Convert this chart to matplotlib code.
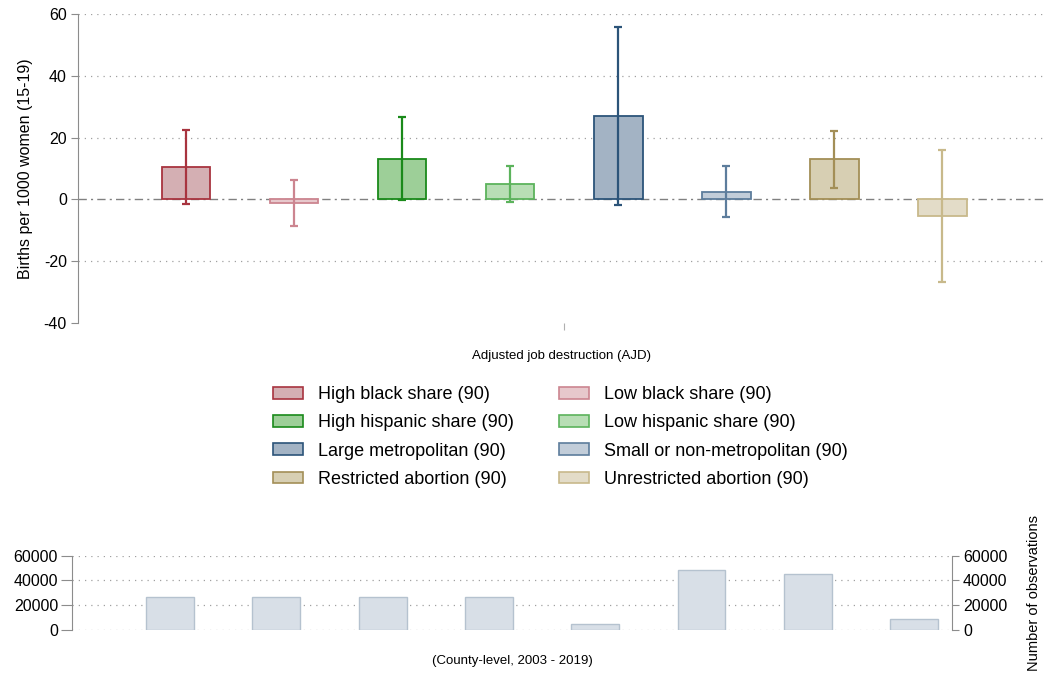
import matplotlib
matplotlib.use("Agg")
import matplotlib.pyplot as plt
from matplotlib.patches import Patch
import numpy as np

plt.rcParams['font.family'] = ['Liberation Sans', 'DejaVu Sans']
plt.rcParams['axes.unicode_minus'] = False

# estimates
groups = [
    "High black share (90)", "Low black share (90)",
    "High hispanic share (90)", "Low hispanic share (90)",
    "Large metropolitan (90)", "Small or non-metropolitan (90)",
    "Restricted abortion (90)", "Unrestricted abortion (90)",
]
coef = [10.4, -1.2, 13.0, 4.9, 26.9, 2.5, 13.0, -5.3]
ci_low = [-1.4, -8.7, -0.2, -0.9, -1.8, -5.6, 3.8, -26.7]
ci_high = [22.4, 6.2, 26.6, 10.9, 55.9, 10.9, 22.2, 15.9]
n_obs = [26400, 26400, 26400, 26400, 4600, 48200, 44700, 8600]

fills = ["#d4afb3", "#e7c8cc", "#9dcf98", "#b8deb5",
         "#a3b3c4", "#c2cdd9", "#d7cfb3", "#e3dcc8"]
edges = ["#a8343f", "#cc8590", "#1a8a1a", "#5cb35c",
         "#2c5479", "#5d7d9c", "#a38f57", "#c8b98b"]

pos = np.arange(1, len(coef) + 1)
grey = "#8c8c8c"

fig = plt.figure(figsize=(10.48, 6.77), dpi=100)
W, H = 1048, 677

# main panel
ax = fig.add_axes([78 / W, 1 - 323 / H, (1045 - 78) / W, (323 - 14) / H])
for g in [60, 40, 20, -20]:
    ax.axhline(g, color="#a0a0a0", lw=0.9, ls=(0, (1, 4)), zorder=0)
ax.axhline(0, color="#808080", lw=1.0, ls=(0, (6, 3, 1.5, 3)), zorder=1)

ax.bar(pos, coef, width=0.45, color=fills, edgecolor=edges, linewidth=1.3, zorder=2)
for i in range(len(coef)):
    ax.errorbar(pos[i], coef[i],
                yerr=[[coef[i] - ci_low[i]], [ci_high[i] - coef[i]]],
                fmt="none", ecolor=edges[i], elinewidth=1.6, capsize=3.2,
                capthick=1.6, zorder=3)

ax.set_xlim(0, 8.95)
ax.set_ylim(-40, 60)
ax.set_yticks([-40, -20, 0, 20, 40, 60])
ax.set_xticks([4.5])
ax.set_xticklabels([""])
ax.tick_params(axis="x", length=5, color="#b0b0b0", width=0.8)
ax.tick_params(axis="y", length=5, color=grey, labelsize=11.5, pad=3)
for s in ["top", "right", "bottom"]:
    ax.spines[s].set_visible(False)
ax.spines["left"].set_color(grey)
ax.set_ylabel("Births per 1000 women (15-19)", fontsize=11.5, labelpad=8)
ax.set_xlabel("Adjusted job destruction (AJD)", fontsize=9.5, labelpad=11)

# legend, filled row by row like the original
order = [0, 2, 4, 6, 1, 3, 5, 7]
handles = [Patch(facecolor=fills[i], edgecolor=edges[i], linewidth=1.2) for i in order]
labels = [groups[i] for i in order]
fig.legend(handles, labels, ncol=2, frameon=False, fontsize=13,
           loc="center", bbox_to_anchor=(560 / W, 1 - 437 / H),
           handlelength=1.66, handleheight=0.6, handletextpad=0.83,
           columnspacing=2.5, labelspacing=0.62, borderaxespad=0, borderpad=0)

# observation counts panel
ax2 = fig.add_axes([72 / W, 1 - 630 / H, (952 - 72) / W, (630 - 555.5) / H])
for g in [0, 20000, 40000, 60000]:
    ax2.axhline(g, color="#a0a0a0", lw=0.9, ls=(0, (1, 4)), zorder=0)
ax2.bar(pos, n_obs, width=0.45, color="#d8dfe7", edgecolor="#b5c2cf", linewidth=1.0, zorder=2)
ax2.set_xlim(0.078, 8.357)
ax2.set_ylim(0, 60000)
ax2.set_yticks([0, 20000, 40000, 60000])
ax2.set_xticks([])
ax2.tick_params(axis="y", length=8, color=grey, labelsize=11.5, pad=2)
for s in ["top", "right", "bottom"]:
    ax2.spines[s].set_visible(False)
ax2.spines["left"].set_color(grey)
ax2.set_xlabel("(County-level, 2003 - 2019)", fontsize=9.5, labelpad=18)

ax3 = ax2.twinx()
ax3.set_ylim(0, 60000)
ax3.set_yticks([0, 20000, 40000, 60000])
ax3.tick_params(axis="y", length=5, color=grey, labelsize=11.5, pad=3)
for s in ["top", "left", "bottom"]:
    ax3.spines[s].set_visible(False)
ax3.spines["right"].set_color(grey)
ax3.set_ylabel("Number of observations", fontsize=10.5)
ax3.yaxis.set_label_coords(1.085, 0.5)

fig.savefig("out.png", dpi=100)
